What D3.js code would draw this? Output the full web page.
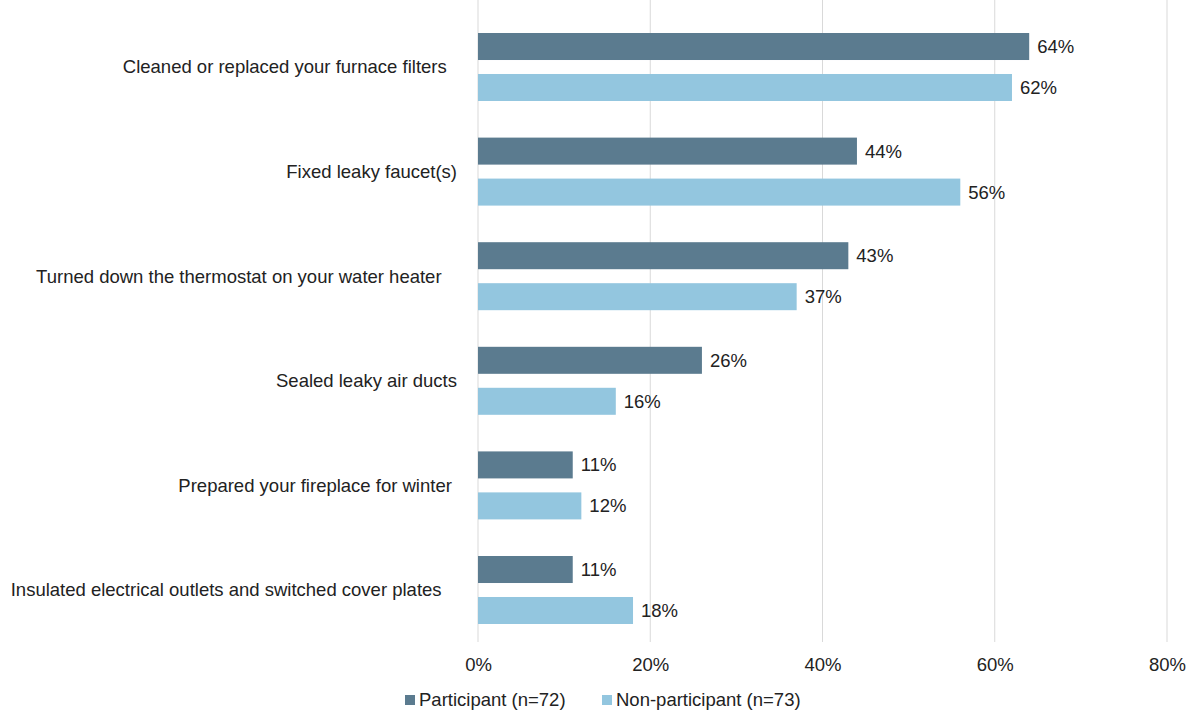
<!DOCTYPE html>
<html>
<head>
<meta charset="utf-8">
<script src="https://cdn.jsdelivr.net/npm/d3@7"></script>
<style>
  body { margin: 0; background: #fff; }
  text { font-family: "Liberation Sans", Arial, sans-serif; fill: #222; }
</style>
</head>
<body>
<svg width="1189" height="711"></svg>
<script>
// chart data
var categories = [
	"Cleaned or replaced your furnace filters",
	"Fixed leaky faucet(s)",
	"Turned down the thermostat on your water heater",
	"Sealed leaky air ducts",
	"Prepared your fireplace for winter",
	"Insulated electrical outlets and switched cover plates"
];
var seriesNames = ["Participant (n=72)", "Non-participant (n=73)"];
var participant = [64, 44, 43, 26, 11, 11];
var nonParticipant = [62, 56, 37, 16, 12, 18];
var tickValues = [0, 20, 40, 60, 80];

// trailing blanks in the original labels (nudges the right edge)
var labelPad = [2, 0, 3, 0, 1, 3];

var colors = ["#5b7b8f", "#93c6df"];
var fontSize = "18.5px";

var svg = d3.select("svg");

var xScale = d3.scaleLinear().domain([0, 80]).range([478, 1167]);
var yScale = d3.scaleBand().domain(categories).range([14.7, 642.3])
	.paddingInner(0.35).paddingOuter(0.175);
var inner = d3.scaleBand().domain(seriesNames).range([0, yScale.bandwidth()])
	.paddingInner(0.341).paddingOuter(0);

// gridlines
svg.append("g")
	.selectAll("line")
	.data(tickValues)
	.enter().append("line")
	.attr("x1", d => xScale(d))
	.attr("x2", d => xScale(d))
	.attr("y1", 0)
	.attr("y2", 642)
	.attr("stroke", "#d9d9d9")
	.attr("stroke-width", 1);

// x axis labels
var xAxis = svg.append("g")
	.attr("transform", "translate(0,665)")
	.call(d3.axisBottom(xScale).tickValues(tickValues).tickFormat(d => d + "%").tickSize(0).tickPadding(0));
xAxis.select(".domain").remove();
xAxis.selectAll("text")
	.attr("dy", "0.35em")
	.attr("y", 0)
	.style("font-size", fontSize)
	.attr("fill", "#222");

// category labels
svg.append("g")
	.selectAll("text")
	.data(categories)
	.enter().append("text")
	.attr("x", 457)
	.attr("y", d => yScale(d) + yScale.bandwidth() / 2)
	.attr("dy", "0.35em")
	.attr("text-anchor", "end")
	.style("font-size", fontSize)
	.style("white-space", "pre")
	.text((d, i) => d + "\u00a0".repeat(labelPad[i]));

// bars
var rows = categories.map((c, i) => ({cat: c, values: [participant[i], nonParticipant[i]]}));

var groups = svg.selectAll(".grp")
	.data(rows)
	.enter().append("g")
	.attr("class", "grp")
	.attr("transform", d => "translate(0," + yScale(d.cat) + ")");

groups.selectAll("rect")
	.data(d => d.values.map((v, j) => ({name: seriesNames[j], v: v, j: j})))
	.enter().append("rect")
	.attr("x", xScale(0))
	.attr("y", d => inner(d.name))
	.attr("width", d => xScale(d.v) - xScale(0))
	.attr("height", inner.bandwidth())
	.attr("fill", d => colors[d.j]);

groups.selectAll(".val")
	.data(d => d.values.map((v, j) => ({name: seriesNames[j], v: v, j: j})))
	.enter().append("text")
	.attr("class", "val")
	.attr("x", d => xScale(d.v) + 8)
	.attr("y", d => inner(d.name) + inner.bandwidth() / 2)
	.attr("dy", "0.35em")
	.style("font-size", fontSize)
	.text(d => d.v + "%");

// legend
var legendX = [405, 602];
var legend = svg.append("g")
	.selectAll("g")
	.data(seriesNames)
	.enter().append("g")
	.attr("transform", (d, i) => "translate(" + legendX[i] + ",700)");
legend.append("rect")
	.attr("x", 0)
	.attr("y", -5)
	.attr("width", 10)
	.attr("height", 10)
	.attr("fill", (d, i) => colors[i]);
legend.append("text")
	.attr("x", 14)
	.attr("y", 0)
	.attr("dy", "0.35em")
	.style("font-size", fontSize)
	.text(d => d);
</script>
</body>
</html>
